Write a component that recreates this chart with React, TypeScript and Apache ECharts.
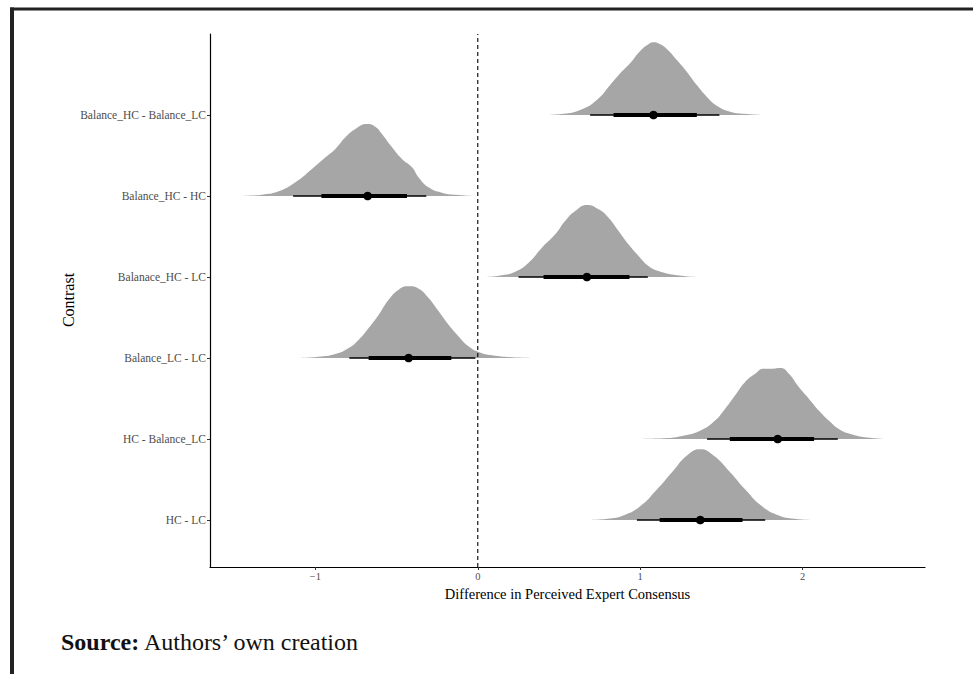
import React, { useEffect, useRef } from "react";
import * as echarts from "echarts";

// Contrasts, bottom row first (row index = position + 1 on the y scale)
const CONTRASTS = [
  "HC - LC",
  "HC - Balance_LC",
  "Balance_LC - LC",
  "Balanace_HC - LC",
  "Balance_HC - HC",
  "Balance_HC - Balance_LC",
];

// Posterior density outlines: [difference, scaled height] per contrast
const DENS_HC_LC = [
  [0.67, 0], [0.8, 0.015], [0.9, 0.06], [1.0, 0.17], [1.1, 0.37], [1.2, 0.6],
  [1.29, 0.8], [1.37, 0.875], [1.45, 0.8], [1.55, 0.6], [1.65, 0.37],
  [1.75, 0.17], [1.85, 0.06], [1.95, 0.015], [2.07, 0],
];
const DENS_HC_BLC = [
  [1.0, 0], [1.147, 0.008], [1.271, 0.042], [1.375, 0.108], [1.458, 0.221],
  [1.521, 0.367], [1.583, 0.534], [1.645, 0.701], [1.708, 0.805], [1.76, 0.867],
  [1.812, 0.867], [1.863, 0.876], [1.916, 0.805], [1.978, 0.638], [2.041, 0.492],
  [2.103, 0.346], [2.165, 0.221], [2.228, 0.117], [2.311, 0.054], [2.415, 0.017],
  [2.539, 0],
];
const DENS_BLC_LC = [
  [-1.123, 0], [-0.98, 0.016], [-0.877, 0.049], [-0.795, 0.123], [-0.733, 0.226],
  [-0.672, 0.37], [-0.61, 0.535], [-0.549, 0.72], [-0.487, 0.844], [-0.426, 0.885],
  [-0.364, 0.856], [-0.303, 0.741], [-0.241, 0.576], [-0.18, 0.412], [-0.118, 0.267],
  [-0.057, 0.144], [0.005, 0.074], [0.087, 0.033], [0.21, 0.008], [0.333, 0],
];
const DENS_BHC_LC = [
  [0.046, 0], [0.149, 0.021], [0.231, 0.066], [0.313, 0.177], [0.395, 0.362],
  [0.477, 0.527], [0.538, 0.691], [0.6, 0.815], [0.672, 0.889], [0.744, 0.835],
  [0.805, 0.733], [0.867, 0.568], [0.928, 0.403], [0.99, 0.259], [1.051, 0.136],
  [1.113, 0.074], [1.215, 0.025], [1.359, 0],
];
const DENS_BHC_HC = [
  [-1.451, 0], [-1.328, 0.016], [-1.226, 0.058], [-1.123, 0.169], [-1.021, 0.333],
  [-0.938, 0.477], [-0.877, 0.58], [-0.815, 0.724], [-0.754, 0.827], [-0.682, 0.889],
  [-0.631, 0.856], [-0.59, 0.765], [-0.528, 0.601], [-0.467, 0.457], [-0.405, 0.354],
  [-0.364, 0.23], [-0.303, 0.107], [-0.221, 0.041], [-0.118, 0.012], [-0.015, 0],
];
const DENS_BHC_BLC = [
  [0.395, 0], [0.528, 0.016], [0.631, 0.062], [0.733, 0.185], [0.815, 0.37],
  [0.877, 0.514], [0.938, 0.638], [1.0, 0.79], [1.051, 0.872], [1.082, 0.897],
  [1.123, 0.872], [1.164, 0.815], [1.226, 0.679], [1.287, 0.535], [1.349, 0.37],
  [1.41, 0.226], [1.472, 0.115], [1.554, 0.041], [1.657, 0.012], [1.769, 0],
];
const DENSITIES = [DENS_HC_LC, DENS_HC_BLC, DENS_BLC_LC, DENS_BHC_LC, DENS_BHC_HC, DENS_BHC_BLC];

// Point summaries: median with 80% (thick) and 95% (thin) intervals
const MEDIAN = [1.37, 1.847, -0.426, 0.672, -0.678, 1.082];
const LO_80 = [1.12, 1.552, -0.672, 0.405, -0.963, 0.836];
const HI_80 = [1.63, 2.071, -0.163, 0.934, -0.436, 1.349];
const LO_95 = [0.98, 1.412, -0.791, 0.251, -1.137, 0.692];
const HI_95 = [1.77, 2.217, -0.015, 1.047, -0.317, 1.488];

const X_TICKS = [-1, 0, 1, 2];
const X_MIN = -1.649;
const X_MAX = 2.754;
const Y_MIN = 0.42;
const Y_MAX = 7.0;

const SERIF = "'Liberation Serif', 'Times New Roman', serif";

export default function App() {
  const ref = useRef<HTMLDivElement>(null);

  useEffect(() => {
    if (!ref.current) return;
    const chart = echarts.init(ref.current, undefined, { renderer: "svg" });

    const densitySeries = DENSITIES.map((pts, i) => ({
      type: "line",
      name: CONTRASTS[i],
      data: pts.map(([x, h]) => [x, i + 1 + h]),
      smooth: 0.5,
      showSymbol: false,
      symbol: "none",
      lineStyle: { width: 0, opacity: 0 },
      areaStyle: { color: "#a6a6a6", opacity: 1, origin: i + 1 },
      silent: true,
      z: 2,
    }));

    const intervalRows = CONTRASTS.map((_, i) => [
      i + 1, MEDIAN[i], LO_80[i], HI_80[i], LO_95[i], HI_95[i],
    ]);

    chart.setOption({
      animation: false,
      backgroundColor: "#ffffff",
      grid: { left: 210, top: 34, right: 48, bottom: 107 },
      xAxis: {
        type: "value",
        min: X_MIN,
        max: X_MAX,
        name: "Difference in Perceived Expert Consensus",
        nameLocation: "middle",
        nameGap: 19,
        nameMoveOverlap: false,
        nameTextStyle: { fontFamily: SERIF, fontSize: 14.5, color: "#000" },
        axisLine: { show: true, onZero: false, lineStyle: { color: "#000", width: 1.2 } },
        axisTick: { show: true, length: 3, customValues: X_TICKS, lineStyle: { color: "#333" } },
        axisLabel: {
          customValues: X_TICKS,
          margin: 4,
          fontFamily: SERIF,
          fontSize: 10.5,
          color: "#4d4d4d",
          formatter: (v: number) => (v < 0 ? "\u2212" + Math.abs(v) : String(v)),
        },
        splitLine: { show: false },
      },
      yAxis: {
        type: "value",
        min: Y_MIN,
        max: Y_MAX,
        axisLine: { show: true, onZero: false, lineStyle: { color: "#000", width: 1.2 } },
        axisTick: { show: true, length: 3, customValues: [1, 2, 3, 4, 5, 6], lineStyle: { color: "#333" } },
        axisLabel: {
          customValues: [1, 2, 3, 4, 5, 6],
          margin: 4,
          fontFamily: SERIF,
          fontSize: 11.5,
          color: "#4d4d4d",
          formatter: (v: number) => CONTRASTS[Math.round(v) - 1] ?? "",
        },
        splitLine: { show: false },
      },
      series: [
        ...densitySeries,
        {
          type: "custom",
          name: "intervals",
          data: intervalRows,
          encode: { x: [1, 2, 3, 4, 5], y: 0 },
          z: 3,
          silent: true,
          renderItem: (_params: any, api: any) => {
            const k = api.value(0);
            const mid = api.coord([api.value(1), k]);
            const a80 = api.coord([api.value(2), k]);
            const b80 = api.coord([api.value(3), k]);
            const a95 = api.coord([api.value(4), k]);
            const b95 = api.coord([api.value(5), k]);
            return {
              type: "group",
              children: [
                {
                  type: "line",
                  shape: { x1: a95[0], y1: mid[1], x2: b95[0], y2: mid[1] },
                  style: { stroke: "#000", lineWidth: 1.6 },
                },
                {
                  type: "line",
                  shape: { x1: a80[0], y1: mid[1], x2: b80[0], y2: mid[1] },
                  style: { stroke: "#000", lineWidth: 4.2 },
                },
                {
                  type: "circle",
                  shape: { cx: mid[0], cy: mid[1], r: 4.3 },
                  style: { fill: "#000" },
                },
              ],
            };
          },
        },
        {
          type: "line",
          name: "zero",
          data: [[0, Y_MIN], [0, Y_MAX]],
          showSymbol: false,
          symbol: "none",
          silent: true,
          lineStyle: { color: "#000", width: 1.1, type: [4, 3] },
          z: 4,
        },
      ],
      graphic: [
        { type: "rect", shape: { x: 10, y: 7.5, width: 963, height: 3 }, style: { fill: "#222" } },
        { type: "rect", shape: { x: 10, y: 7.5, width: 4, height: 667 }, style: { fill: "#222" } },
        {
          // y-axis title
          type: "text",
          x: 68,
          y: 300,
          rotation: Math.PI / 2,
          style: {
            text: "Contrast",
            fontFamily: SERIF,
            fontSize: 16,
            fill: "#000",
            align: "center",
            verticalAlign: "middle",
          },
        },
        {
          type: "text",
          x: 61,
          y: 642,
          style: {
            text: "{b|Source:} Authors\u2019 own creation",
            fontFamily: SERIF,
            fontSize: 24,
            fill: "#111",
            verticalAlign: "middle",
            rich: { b: { fontFamily: SERIF, fontSize: 24, fontWeight: "bold", fill: "#111" } },
          },
        },
      ],
    });

    return () => chart.dispose();
  }, []);

  return (
    <div
      ref={ref}
      style={{ position: "absolute", left: 0, top: 0, width: 973, height: 674, background: "#fff" }}
    />
  );
}
